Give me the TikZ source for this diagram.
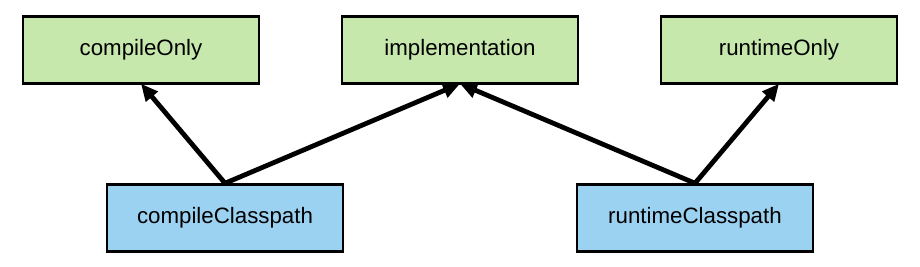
\documentclass[tikz,border=0pt]{standalone}
\usepackage{fontspec}
\setmainfont{Liberation Sans}
\usetikzlibrary{arrows.meta}
\definecolor{boxgreen}{RGB}{198,232,172}
\definecolor{boxblue}{RGB}{155,210,242}
\begin{document}
\begin{tikzpicture}[x=1pt,y=-1pt,
  cfgbox/.style={draw=black,line width=2.5pt,minimum width=236pt,minimum height=67pt,inner sep=0pt,font=\fontsize{22.3}{26}\selectfont},
  greenbox/.style={cfgbox,fill=boxgreen},
  bluebox/.style={cfgbox,fill=boxblue},
  dep/.style={line width=4.8pt,-{Triangle[length=17pt,width=15pt]}}]
\useasboundingbox (0,0) rectangle (920,267);
\node[greenbox] (co) at (141,50) {compileOnly};
\node[greenbox] (impl) at (460,50) {implementation};
\node[greenbox] (ro) at (779,50) {runtimeOnly};
\node[bluebox] (cc) at (225,218) {compileClasspath};
\node[bluebox] (rc) at (695,218) {runtimeClasspath};
\draw[dep] (cc.north) -- ([yshift=1pt]co.south);
\draw[dep] (cc.north) -- ([yshift=1pt]impl.south);
\draw[dep] (rc.north) -- ([yshift=1pt]impl.south);
\draw[dep] (rc.north) -- ([yshift=1pt]ro.south);
\end{tikzpicture}
\end{document}
